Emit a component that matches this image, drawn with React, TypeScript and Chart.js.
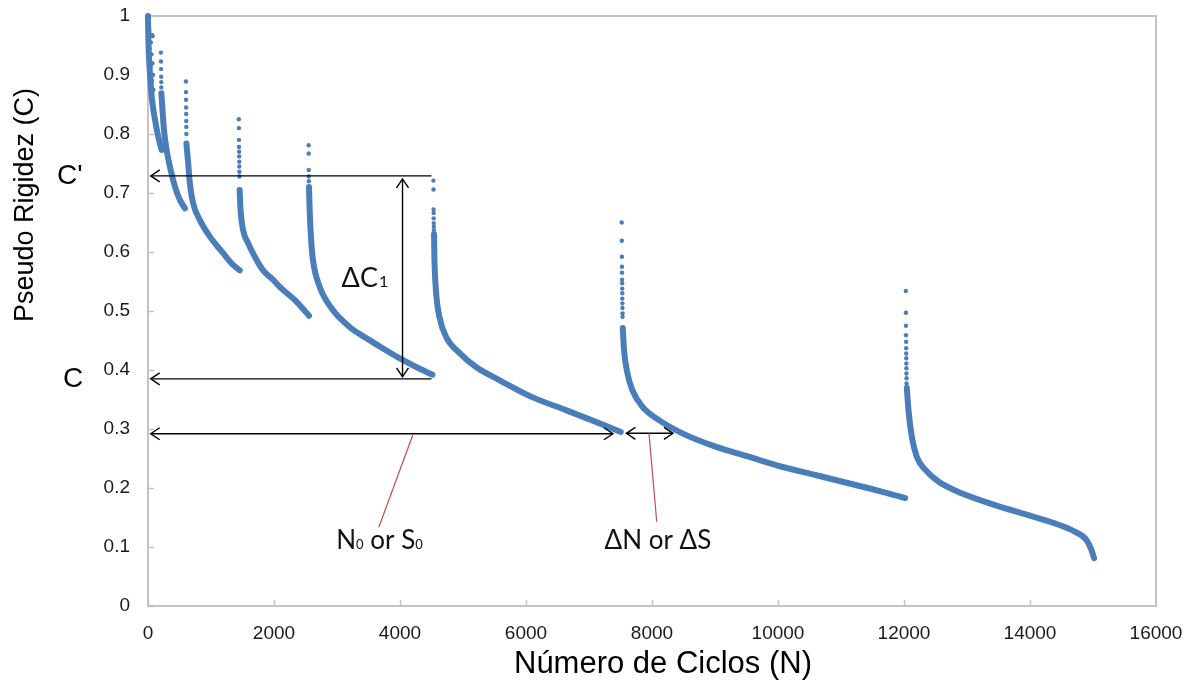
import React, { useEffect, useRef } from "react";
import { Chart, registerables } from "chart.js";

Chart.register(...registerables);

// ---- data (x = ciclos, y = pseudo rigidez) ----
const seg1Line = [[0, 1.0], [6, 0.96], [18, 0.925], [35, 0.897], [60, 0.862], [111, 0.824], [163, 0.795], [217, 0.773]];
const seg1Pts = [[0, 0.99], [8, 0.985], [20, 0.975], [60, 0.968], [75, 0.966], [45, 0.955], [25, 0.945], [55, 0.935], [70, 0.92], [40, 0.915], [80, 0.9], [65, 0.89], [85, 0.875]];

const seg2Pts = [[206, 0.938], [207, 0.923], [208, 0.91], [209, 0.897], [210, 0.888], [211, 0.879]];
const seg2Line = [[212, 0.869], [230, 0.841], [253, 0.807], [296, 0.773], [360, 0.739], [428, 0.711], [507, 0.688], [586, 0.674]];

const seg3Pts = [[602, 0.889], [603, 0.871], [604, 0.858], [605, 0.845], [606, 0.834], [607, 0.822], [608, 0.812], [609, 0.8]];
const seg3Line = [[610, 0.784], [638, 0.75], [665, 0.716], [718, 0.682], [824, 0.654], [982, 0.626], [1193, 0.598], [1351, 0.578], [1457, 0.569]];

const seg4Pts = [[1442, 0.825], [1443, 0.81], [1444, 0.79], [1445, 0.778], [1446, 0.77], [1447, 0.762], [1448, 0.753], [1449, 0.745], [1450, 0.736], [1451, 0.728]];
const seg4Line = [[1455, 0.705], [1468, 0.673], [1510, 0.637], [1589, 0.615], [1695, 0.592], [1827, 0.569], [1985, 0.553], [2091, 0.541], [2356, 0.516], [2555, 0.492]];

const seg5Pts = [[2550, 0.781], [2551, 0.767], [2552, 0.739], [2553, 0.728], [2554, 0.72]];
const seg5Line = [[2556, 0.71], [2566, 0.671], [2590, 0.62], [2619, 0.586], [2725, 0.541], [2931, 0.502], [3200, 0.473], [3465, 0.454], [3723, 0.437], [3992, 0.42], [4257, 0.405], [4515, 0.392]];

const seg6Pts = [[4531, 0.721], [4532, 0.706], [4533, 0.672], [4534, 0.666], [4535, 0.657], [4536, 0.649], [4537, 0.643], [4538, 0.637]];
const seg6Line = [[4540, 0.63], [4543, 0.61], [4547, 0.586], [4574, 0.53], [4626, 0.49], [4732, 0.456], [4943, 0.429], [5207, 0.405], [5576, 0.383], [6099, 0.354], [6633, 0.332], [7160, 0.31], [7504, 0.295]];

const seg7Pts = [[7520, 0.65], [7521, 0.619], [7522, 0.592], [7523, 0.575], [7524, 0.565], [7525, 0.553], [7526, 0.547], [7527, 0.538], [7528, 0.53], [7529, 0.521], [7530, 0.513], [7531, 0.505], [7532, 0.496], [7533, 0.49]];
const seg7Line = [[7536, 0.471], [7556, 0.434], [7609, 0.395], [7688, 0.366], [7846, 0.338], [8111, 0.315], [8475, 0.293], [9009, 0.27], [9537, 0.253], [10059, 0.236], [10593, 0.222], [11120, 0.208], [11643, 0.194], [12019, 0.183]];

const seg8Pts = [[12029, 0.534], [12030, 0.497], [12031, 0.475], [12032, 0.459], [12033, 0.448], [12034, 0.437], [12035, 0.428], [12036, 0.42], [12037, 0.411], [12038, 0.403], [12039, 0.394], [12040, 0.386], [12041, 0.377]];
const seg8Line = [[12045, 0.37], [12071, 0.332], [12124, 0.287], [12203, 0.253], [12336, 0.231], [12546, 0.211], [12916, 0.191], [13445, 0.171], [13972, 0.154], [14395, 0.14], [14712, 0.126], [14896, 0.112], [14975, 0.095], [15018, 0.081]];

const lineSegments = [seg1Line, seg2Line, seg3Line, seg4Line, seg5Line, seg6Line, seg7Line, seg8Line];
const sparsePoints = [seg1Pts, seg2Pts, seg3Pts, seg4Pts, seg5Pts, seg6Pts, seg7Pts, seg8Pts];

// axis settings
const X_MIN = 0, X_MAX = 16000, X_STEP = 2000;
const Y_MIN = 0, Y_MAX = 1, Y_STEP = 0.1;

// annotations (data units)
const cPrimeY = 0.729;
const cY = 0.385;
const arrowStartX = 43;
const arrowEndX = 4499;
const deltaC1X = 4040;
const n0ArrowY = 0.292;
const n0ArrowEndX = 7380;
const dNArrow = [7593, 8333];
const dNArrowY = 0.2927;
const redLine1 = [[4203, 0.2898], [3664, 0.1334]];
const redLine2 = [[7952, 0.2927], [8075, 0.1429]];
const n0Label = [3675, 0.112];
const dNLabel = [8095, 0.112];
const dC1Label = [3073, 0.556];

const BLUE = "#4a7ebb";
const AXIS_GRAY = "#c4c4c4";
const SANS = "'Liberation Sans', Arial, sans-serif";
const CAL = "Lato, 'Open Sans', sans-serif";

function toXY(arr: number[][]) {
  return arr.map(([x, y]) => ({ x, y }));
}

function arrowHead(ctx: CanvasRenderingContext2D, tx: number, ty: number, dx: number, dy: number) {
  const len = 9, hw = 6;
  const px = -dy, py = dx;
  ctx.beginPath();
  ctx.moveTo(tx - dx * len + px * hw, ty - dy * len + py * hw);
  ctx.lineTo(tx, ty);
  ctx.lineTo(tx - dx * len - px * hw, ty - dy * len - py * hw);
  ctx.stroke();
}

function drawRich(ctx: CanvasRenderingContext2D, parts: [string, boolean][], cx: number, cy: number, big: number, small: number) {
  let total = 0;
  const widths = parts.map(([t, sub]) => {
    ctx.font = `${sub ? small : big}px ${CAL}`;
    const w = ctx.measureText(t).width;
    total += w;
    return w;
  });
  let x = cx - total / 2;
  const baseline = cy + big * 0.36;
  ctx.textAlign = "left";
  ctx.textBaseline = "alphabetic";
  parts.forEach(([t, sub], i) => {
    ctx.font = `${sub ? small : big}px ${CAL}`;
    ctx.fillText(t, x, baseline);
    x += widths[i];
  });
}

const framePlugin = {
  id: "frameAndAnnotations",
  beforeDatasetsDraw(chart: any) {
    const { ctx, chartArea: a, scales } = chart;
    ctx.save();
    ctx.strokeStyle = AXIS_GRAY;
    ctx.lineWidth = 2;
    ctx.strokeRect(a.left, a.top, a.right - a.left, a.bottom - a.top);
    ctx.lineWidth = 1.5;
    ctx.beginPath();
    scales.x.ticks.forEach((t: any) => {
      const px = Math.round(scales.x.getPixelForValue(t.value)) + 0.5;
      ctx.moveTo(px, a.bottom);
      ctx.lineTo(px, a.bottom - 6);
    });
    scales.y.ticks.forEach((t: any) => {
      const py = Math.round(scales.y.getPixelForValue(t.value)) + 0.5;
      ctx.moveTo(a.left, py);
      ctx.lineTo(a.left + 6, py);
    });
    ctx.stroke();
    ctx.restore();
  },
  afterDraw(chart: any) {
    const { ctx, scales } = chart;
    const X = (v: number) => scales.x.getPixelForValue(v);
    const Y = (v: number) => scales.y.getPixelForValue(v);
    ctx.save();
    ctx.strokeStyle = "#000";
    ctx.lineWidth = 1.4;

    // C' arrow
    ctx.beginPath();
    ctx.moveTo(X(arrowStartX), Y(cPrimeY));
    ctx.lineTo(X(arrowEndX), Y(cPrimeY));
    ctx.stroke();
    arrowHead(ctx, X(arrowStartX), Y(cPrimeY), -1, 0);
    // C arrow
    ctx.beginPath();
    ctx.moveTo(X(arrowStartX), Y(cY));
    ctx.lineTo(X(arrowEndX), Y(cY));
    ctx.stroke();
    arrowHead(ctx, X(arrowStartX), Y(cY), -1, 0);
    // delta C1 vertical arrow
    const vTop = Y(cPrimeY) + 3, vBot = Y(cY) - 2;
    ctx.beginPath();
    ctx.moveTo(X(deltaC1X), vTop);
    ctx.lineTo(X(deltaC1X), vBot);
    ctx.stroke();
    arrowHead(ctx, X(deltaC1X), vTop, 0, -1);
    arrowHead(ctx, X(deltaC1X), vBot, 0, 1);
    // N0 arrow
    ctx.beginPath();
    ctx.moveTo(X(arrowStartX), Y(n0ArrowY));
    ctx.lineTo(X(n0ArrowEndX), Y(n0ArrowY));
    ctx.stroke();
    arrowHead(ctx, X(arrowStartX), Y(n0ArrowY), -1, 0);
    arrowHead(ctx, X(n0ArrowEndX), Y(n0ArrowY), 1, 0);
    // delta N arrow
    ctx.beginPath();
    ctx.moveTo(X(dNArrow[0]), Y(dNArrowY));
    ctx.lineTo(X(dNArrow[1]), Y(dNArrowY));
    ctx.stroke();
    arrowHead(ctx, X(dNArrow[0]), Y(dNArrowY), -1, 0);
    arrowHead(ctx, X(dNArrow[1]), Y(dNArrowY), 1, 0);

    // red leader lines
    ctx.strokeStyle = "#c0504d";
    ctx.lineWidth = 1.2;
    [redLine1, redLine2].forEach((l) => {
      ctx.beginPath();
      ctx.moveTo(X(l[0][0]), Y(l[0][1]));
      ctx.lineTo(X(l[1][0]), Y(l[1][1]));
      ctx.stroke();
    });

    // labels
    ctx.fillStyle = "#111";
    drawRich(ctx, [["N", false], ["0", true], [" or S", false], ["0", true]], X(n0Label[0]), Y(n0Label[1]), 26, 13);
    drawRich(ctx, [["\u0394N or \u0394S", false]], X(dNLabel[0]), Y(dNLabel[1]), 26, 13);
    ctx.font = `27px ${CAL}`;
    ctx.textAlign = "left";
    ctx.textBaseline = "alphabetic";
    const dcx = X(dC1Label[0]);
    const dcy = Y(dC1Label[1]) + 9;
    ctx.fillText("\u0394C", dcx, dcy);
    const w = ctx.measureText("\u0394C").width;
    ctx.font = `16px ${CAL}`;
    ctx.fillText("1", dcx + w + 1, dcy);

    // C' and C labels outside the axis
    ctx.fillStyle = "#000";
    ctx.font = `28px ${SANS}`;
    ctx.textAlign = "left";
    ctx.textBaseline = "middle";
    ctx.fillText("C'", 57, Y(cPrimeY));
    ctx.fillText("C", 63, Y(cY));

    // axis titles
    ctx.font = `31px ${SANS}`;
    ctx.textAlign = "center";
    ctx.textBaseline = "middle";
    ctx.fillText("N\u00famero de Ciclos (N)", 663, 664);
    ctx.font = `27px ${SANS}`;
    ctx.save();
    ctx.translate(26, 205);
    ctx.rotate(-Math.PI / 2);
    ctx.fillText("Pseudo Rigidez (C)", 0, 0);
    ctx.restore();

    ctx.restore();
  },
};

export default function App() {
  const ref = useRef<HTMLCanvasElement | null>(null);
  useEffect(() => {
    document.body.style.margin = "0";
    if (!ref.current) return;
    const datasets: any[] = lineSegments.map((seg) => ({
      data: toXY(seg),
      showLine: true,
      borderColor: BLUE,
      backgroundColor: BLUE,
      borderWidth: 6,
      borderCapStyle: "round",
      borderJoinStyle: "round",
      pointRadius: 0,
      cubicInterpolationMode: "monotone",
      clip: 10,
    }));
    datasets.push({
      data: toXY(sparsePoints.flat()),
      showLine: false,
      pointRadius: 2.2,
      pointBorderWidth: 0,
      pointBackgroundColor: BLUE,
      backgroundColor: BLUE,
      borderColor: BLUE,
      clip: 10,
    });
    const chart = new Chart(ref.current, {
      type: "scatter",
      data: { datasets },
      plugins: [framePlugin],
      options: {
        responsive: false,
        animation: false,
        devicePixelRatio: 1,
        layout: { padding: { top: 16, right: 40, bottom: 0, left: 0 } },
        plugins: { legend: { display: false }, tooltip: { enabled: false } },
        scales: {
          x: {
            type: "linear",
            min: X_MIN,
            max: X_MAX,
            afterFit: (s: any) => {
              s.height = 85;
              s.paddingLeft = 0;
              s.paddingRight = 0;
            },
            grid: { display: false, drawTicks: false },
            border: { display: false },
            ticks: {
              stepSize: X_STEP,
              padding: 16,
              color: "#1a1a1a",
              font: { family: SANS, size: 19 },
              callback: (v: any) => String(v),
              maxRotation: 0,
            },
          },
          y: {
            type: "linear",
            min: Y_MIN,
            max: Y_MAX,
            afterFit: (s: any) => {
              s.width = 148;
              s.paddingTop = 0;
              s.paddingBottom = 0;
            },
            grid: { display: false, drawTicks: false },
            border: { display: false },
            ticks: {
              stepSize: Y_STEP,
              padding: 18,
              color: "#1a1a1a",
              font: { family: SANS, size: 19 },
              callback: (v: any) => {
                const n = Math.round(Number(v) * 10) / 10;
                return n === 0 || n === 1 ? String(n) : n.toFixed(1);
              },
            },
          },
        },
      },
    } as any);
    return () => chart.destroy();
  }, []);
  return (
    <div style={{ width: 1196, height: 691 }}>
      <canvas ref={ref} width={1196} height={691} />
    </div>
  );
}
